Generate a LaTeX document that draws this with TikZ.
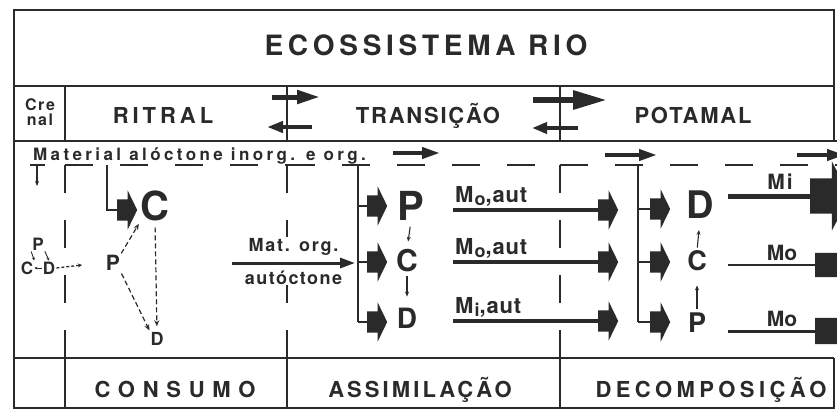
\documentclass[tikz,border=0pt]{standalone}
\usepackage{fontspec}
\setmainfont{TeX Gyre Heros}
\usetikzlibrary{positioning, shapes.arrows, arrows.meta}
\definecolor{ink}{HTML}{2A2A2A}
\newcommand\fsz[1]{\fontsize{#1}{#1}\selectfont}
\newcommand\ls[1]{\addfontfeature{LetterSpace=#1}}

\tikzset{
  rule/.style={ink, line width=1.8pt},
  brk/.style={ink, line width=1.8pt, dash pattern=on 28pt off 27pt},
  feed/.style={ink, line width=2pt},
  txt/.style={text=ink, inner sep=0pt, font=\bfseries\fsz{#1}},
  blk/.style={single arrow, fill=ink, inner xsep=0pt, inner ysep=10.5pt,
    minimum height=20pt, single arrow head extend=9pt, single arrow tip angle=128},
  bigblk/.style={single arrow, fill=ink, inner xsep=0pt, inner ysep=#1,
    minimum height=40pt, single arrow head extend=17pt, single arrow tip angle=124},
  flow/.style={ink, line width=#1},
  dsh/.style={ink, line width=1.2pt, dash pattern=on 5pt off 3pt,
    -{Stealth[length=6pt, width=5pt]}},
  tick/.style={ink, line width=1.1pt, -{Stealth[length=5pt, width=4pt]}},
}

\begin{document}
\begin{tikzpicture}[x=1pt, y=-1pt]
\useasboundingbox (0,0) rectangle (837,416);
\clip (0,0) rectangle (837,416);

% frame and rows
\draw[rule] (834,141) -- (834,10) -- (14,10) -- (14,408) -- (834,408) -- (834,358);
\draw[rule] (14,86) -- (834,86);
\draw[rule] (14,141) -- (837,141);
\draw[rule] (14,358) -- (834,358);
\foreach \x in {65,287,560} {
  \draw[rule] (\x,86) -- (\x,141);
  \draw[rule] (\x,358) -- (\x,408);
  \draw[brk] (\x,165) -- (\x,358);
}
\draw[brk] (65,165) -- (287,165);
\draw[brk] (287,165) -- (560,165);
\draw[brk] (560,165) -- (837,165);
\draw[rule] (30,165) -- (45,165);

% headings
\node[txt=28, anchor=base] (title) at (426,55) {\ls{17}ECOSSISTEMA RIO};
\node[txt=16, align=center, font=\bfseries\fsz{16}\ls{10}] (crenal) at (40,112) {Cre\\[-1pt]nal};
\node[txt=22, anchor=base] (ritral) at (163,123) {\ls{18}RITRAL};
\node[txt=22, anchor=base] (trans) at (428,123) {\ls{8}TRANSIÇÃO};
\node[txt=22, anchor=base] (potamal) at (693,123) {\ls{8}POTAMAL};
\node[txt=17, anchor=base west] (aloc) at (33,160) {\ls{20}Material alóctone inorg. e org.};
\node[txt=22, anchor=base] (consumo) at (175,397) {\ls{35}CONSUMO};
\node[txt=22, anchor=base] (assim) at (420,397) {\ls{14}ASSIMILAÇÃO};
\node[txt=22, anchor=base] (decomp) at (711,397) {\ls{20}DECOMPOSIÇÃO};

% exchanges between zones
\coordinate (rt1a) at (272,97);  \coordinate (rt1b) at (320,97);
\coordinate (tr1a) at (312,127); \coordinate (tr1b) at (267,127);
\coordinate (tp1a) at (533,100); \coordinate (tp1b) at (607,100);
\coordinate (pt1a) at (578,128); \coordinate (pt1b) at (532,128);
\draw[flow=5pt, -{Triangle[length=23pt, width=13pt]}] (rt1a) -- (rt1b);
\draw[flow=4pt, -{Triangle[length=16pt, width=11pt]}] (tr1a) -- (tr1b);
\draw[flow=6pt, -{Triangle[length=34pt, width=18pt]}] (tp1a) -- (tp1b);
\draw[flow=4pt, -{Triangle[length=15pt, width=11pt]}] (pt1a) -- (pt1b);

% allochthonous input
\coordinate (in1a) at (393,153); \coordinate (in1b) at (440,153);
\coordinate (in2a) at (605,155); \coordinate (in2b) at (657,155);
\coordinate (in3a) at (797,155); \coordinate (in3b) at (845,155);
\foreach \i in {1,2,3}
  \draw[flow=4pt, -{Triangle[length=18pt, width=11pt]}] (in\i a) -- (in\i b);
\coordinate (drop) at (37,165);
\coordinate (dropb) at (37,186);
\draw[tick] (drop) -- (dropb);

% crenal cycle
\node[txt=17, inner sep=1pt] (kP) at (38,244) {P};
\node[txt=17, inner sep=1pt] (kC) at (27,268) {C};
\node[txt=17, inner sep=1pt] (kD) at (49,268) {D};
\coordinate (kout) at (82,265);
\draw[ink, line width=0.9pt, -{Stealth[length=3pt, width=3pt]}] (kP.south west) -- (kC.north east);
\draw[ink, line width=0.9pt, -{Stealth[length=3pt, width=3pt]}] (kP.south east) -- (kD.north);
\draw[ink, line width=0.9pt, -{Stealth[length=3pt, width=3pt]}] (kD.west) -- (kC.east);
\draw[ink, line width=1.3pt, dash pattern=on 3pt off 2pt, -{Stealth[length=4pt, width=4pt]}] (kD.east) -- (kout);

% consumption
\coordinate (cTop) at (107,165);
\coordinate (cBr) at (107,210);
\node[blk, anchor=tail] (cA) at (117,210) {};
\draw[feed] (cTop) -- (cBr) -- (cA.tail);
\node[txt=40] (cC) at (155,206) {C};
\node[txt=21] (cP) at (113,263) {P};
\node[txt=18] (cD) at (157,339) {D};
\draw[dsh, shorten <=2pt, shorten >=3pt] (cP.north east) -- (cC.south west);
\draw[dsh, shorten <=3pt, shorten >=2pt] (cP.south east) -- (cD.north west);
\draw[dsh, shorten <=6pt, shorten >=6pt] (cC.south) -- (cD.north);
\coordinate (mA) at (232,263);
\coordinate (mB) at (355,263);
\draw[flow=3pt, -{Triangle[length=15pt, width=10pt]}] (mA) -- (mB)
  node[txt=18, midway, above=5pt, fill=white, inner sep=1pt] (matorg) {\ls{10}Mat. org.}
  node[txt=18, midway, below=5pt, fill=white, inner sep=1pt] (autoc) {\ls{8}autóctone};

% assimilation
\coordinate (aTop) at (358,165);
\foreach \n/\y in {1/206,2/262,3/322} {
  \node[blk, anchor=tail] (aA\n) at (367,\y) {};
  \coordinate (aB\n) at (358,\y);
  \draw[feed] (aB\n) -- (aA\n.tail);
}
\draw[feed] (aTop) -- (aB3);
\node[txt=40] (aP) at (411,206) {P};
\node[txt=30] (aC) at (407,261) {C};
\node[txt=28] (aD) at (407,318) {D};
\draw[tick, shorten <=6pt, shorten >=8pt] (aP.south) -- (aC.north);
\draw[tick, shorten <=3pt, shorten >=11pt] (aC.south) -- (aD.north);
\foreach \n/\y/\s in {1/210/o,2/262/o,3/321/i} {
  \coordinate (mL\n) at (453,\y);
  \node[blk, anchor=tail] (aO\n) at (598,\y) {};
  \draw[flow=4pt] (mL\n) -- (aO\n.tail);
  \node[txt=22, anchor=base west] (mT\n) at (455,\y-8)
    {\ls{4}M\kern1pt\raisebox{-3pt}{\fsz{18}\s},aut};
}

% decomposition
\coordinate (dTop) at (638,165);
\foreach \n/\y in {1/209,2/262,3/322} {
  \node[blk, anchor=tail] (dA\n) at (650,\y) {};
  \coordinate (dB\n) at (638,\y);
  \draw[feed] (dB\n) -- (dA\n.tail);
}
\draw[feed] (dTop) -- (dB3);
\node[txt=38] (dD) at (700,205) {D};
\node[txt=27] (dC) at (697,261) {C};
\node[txt=27] (dP) at (697,323) {P};
\draw[tick, shorten <=4pt, shorten >=14pt] (dP.north) -- (dC.south);
\draw[tick, shorten <=3pt, shorten >=11pt] (dC.north) -- (dD.south);

% export
\node[bigblk=17.5pt, anchor=tail] (eX1) at (810,196) {};
\node[bigblk=12pt, anchor=tail, single arrow head extend=15pt] (eX2) at (815,265) {};
\node[bigblk=13pt, anchor=tail, single arrow head extend=15pt] (eX3) at (815,331) {};
\coordinate (eL1) at (728,196);
\coordinate (eL2) at (728,265);
\coordinate (eL3) at (728,331);
\draw[flow=5pt] (eL1) -- (eX1.tail);
\draw[flow=2.5pt] (eL2) -- (eX2.tail);
\draw[flow=3pt] (eL3) -- (eX3.tail);
\node[txt=21, anchor=base] (eT1) at (780,189) {\ls{10}Mi};
\node[txt=21, anchor=base] (eT2) at (782,260) {Mo};
\node[txt=21, anchor=base] (eT3) at (782,326) {Mo};
\end{tikzpicture}
\end{document}
